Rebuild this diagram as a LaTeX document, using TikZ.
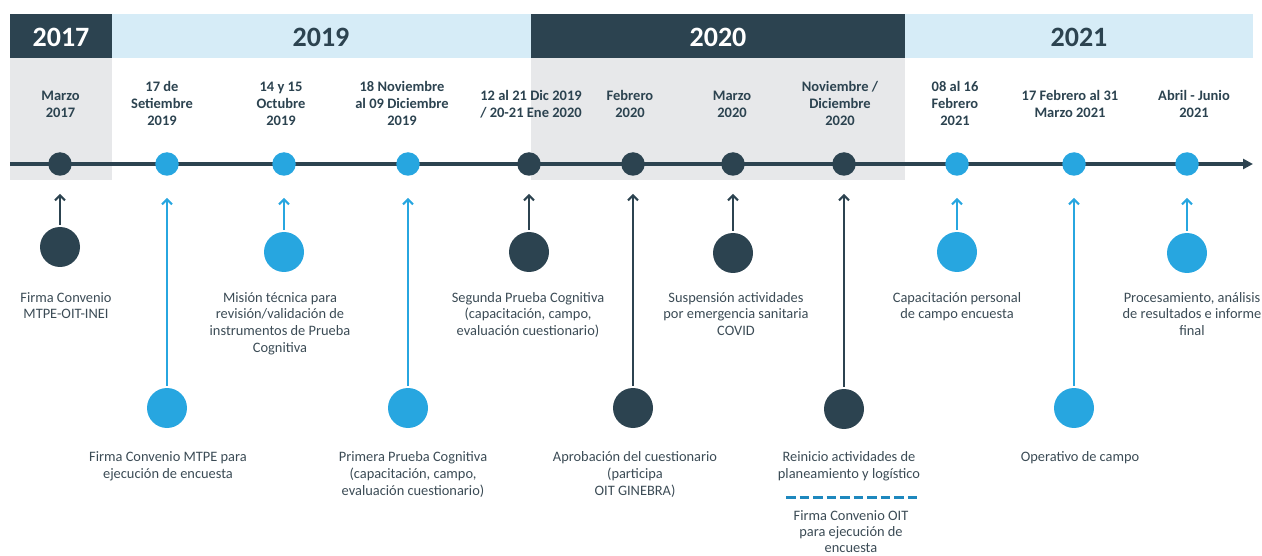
\documentclass[tikz,border=0pt]{standalone}
\usepackage{fontspec}
\setmainfont{Carlito}
\usepackage{xcolor}
\usepackage{tikz}
\usetikzlibrary{arrows.meta}
\definecolor{slate}{HTML}{2C4350}
\definecolor{sky}{HTML}{27A6E0}
\definecolor{paleblue}{HTML}{D6ECF7}
\definecolor{palegrey}{HTML}{E7E8EA}
\definecolor{inkgrey}{HTML}{3B4B55}
\definecolor{dashblue}{HTML}{1E88BE}
\tikzset{
	year label/.style={font=\fontsize{28}{30}\selectfont\bfseries,inner sep=0pt},
	date/.style={align=center,font=\fontsize{14.5}{17}\selectfont\bfseries,text=slate,inner sep=0pt},
	event/.style={align=center,font=\fontsize{14.4}{16.7}\selectfont,text=inkgrey,inner sep=0pt,anchor=north},
	dark dot/.style={circle,fill=slate,minimum size=23.5pt,inner sep=0pt},
	blue dot/.style={circle,fill=sky,minimum size=23.5pt,inner sep=0pt},
	dark ball/.style={circle,fill=slate,minimum size=40pt,inner sep=0pt},
	blue ball/.style={circle,fill=sky,minimum size=40pt,inner sep=0pt},
	dark link/.style={draw=slate,line width=2pt,-{Straight Barb[length=5pt,width=10pt]},shorten >=18pt,shorten <=2pt},
	blue link/.style={draw=sky,line width=2pt,-{Straight Barb[length=5pt,width=10pt]},shorten >=22pt,shorten <=2pt}
}

\begin{document}
\begin{tikzpicture}[x=1pt,y=-1pt]
	    \useasboundingbox (0,0) rectangle (1262,556);

	    \fill[palegrey] (10,58) rectangle (112,180);
	    \fill[palegrey] (531,58) rectangle (905,180);
	    \fill[slate] (10,14) rectangle (112,58);
	    \fill[paleblue] (112,14) rectangle (531,58);
	    \fill[slate] (531,14) rectangle (905,58);
	    \fill[paleblue] (905,14) rectangle (1253,58);

	    \node[year label,text=white] (y17) at (61,37) {2017};
	    \node[year label,text=slate] (y19) at (321,37) {2019};
	    \node[year label,text=white] (y20) at (718,37) {2020};
	    \node[year label,text=slate] (y21) at (1079,37) {2021};

	    \coordinate (start) at (10,164);
	    \coordinate (end) at (1253,164);
	    \draw[slate,line width=4pt,-{Triangle[length=10pt,width=10pt]}] (start) -- (end);

	    \node[dark dot] (d1) at (60,164) {};
	    \node[blue dot] (d2) at (167,164) {};
	    \node[blue dot] (d3) at (284,164) {};
	    \node[blue dot] (d4) at (408,164) {};
	    \node[dark dot] (d5) at (529,164) {};
	    \node[dark dot] (d6) at (633,164) {};
	    \node[dark dot] (d7) at (733,164) {};
	    \node[dark dot] (d8) at (844,164) {};
	    \node[blue dot] (d9) at (957,164) {};
	    \node[blue dot] (d10) at (1074,164) {};
	    \node[blue dot] (d11) at (1187,164) {};

	    \node[date] (t1) at (60.5,104) {Marzo\\2017};
	    \node[date] (t2) at (162,103.5) {17 de\\Setiembre\\2019};
	    \node[date] (t3) at (281,103.5) {14 y 15\\Octubre\\2019};
	    \node[date] (t4) at (402,103.5) {18 Noviembre\\al 09 Diciembre\\2019};
	    \node[date] (t5) at (531,104) {12 al 21 Dic 2019\\/ 20-21 Ene 2020};
	    \node[date] (t6) at (630,103.5) {Febrero\\2020};
	    \node[date] (t7) at (732,104) {Marzo\\2020};
	    \node[date] (t8) at (840,103.5) {Noviembre /\\Diciembre\\2020};
	    \node[date] (t9) at (955,103.5) {08 al 16\\Febrero\\2021};
	    \node[date] (t10) at (1070,104) {17 Febrero al 31\\Marzo 2021};
	    \node[date] (t11) at (1194,104) {Abril - Junio\\2021};

	    \node[dark ball] (c1) at (60,247) {};
	    \node[blue ball] (c2) at (167,408) {};
	    \node[blue ball] (c3) at (284,252) {};
	    \node[blue ball] (c4) at (408,408) {};
	    \node[dark ball] (c5) at (529,252) {};
	    \node[dark ball] (c6) at (633,408) {};
	    \node[dark ball] (c7) at (733,253) {};
	    \node[dark ball] (c8) at (844,409) {};
	    \node[blue ball] (c9) at (957,252) {};
	    \node[blue ball] (c10) at (1074,408) {};
	    \node[blue ball] (c11) at (1187,253) {};

	    \path
	      (c1) edge[dark link] (d1)
	      (c2) edge[blue link] (d2)
	      (c3) edge[blue link] (d3)
	      (c4) edge[blue link] (d4)
	      (c5) edge[dark link] (d5)
	      (c6) edge[dark link] (d6)
	      (c7) edge[dark link] (d7)
	      (c8) edge[dark link] (d8)
	      (c9) edge[blue link] (d9)
	      (c10) edge[blue link] (d10)
	      (c11) edge[blue link] (d11);

	    \node[event] (e1) at (66,292) {Firma Convenio\\MTPE-OIT-INEI};
	    \node[event] (e2) at (168,451.5) {Firma Convenio MTPE para\\ejecución de encuesta};
	    \node[event] (e3) at (280,292) {Misión técnica para\\revisión/validación de\\instrumentos de Prueba\\Cognitiva};
	    \node[event] (e4) at (413,451.5) {Primera Prueba Cognitiva\\(capacitación, campo,\\evaluación cuestionario)};
	    \node[event] (e5) at (528,292) {Segunda Prueba Cognitiva\\(capacitación, campo,\\evaluación cuestionario)};
	    \node[event] (e6) at (635,451.5) {Aprobación del cuestionario\\(participa\\OIT GINEBRA)};
	    \node[event] (e7) at (736,292) {Suspensión actividades\\por emergencia sanitaria\\COVID};
	    \node[event] (e8) at (849,451.5) {Reinicio actividades de\\planeamiento y logístico};
	    \node[event] (e9) at (957,292) {Capacitación personal\\de campo encuesta};
	    \node[event] (e10) at (1080,451.5) {Operativo de campo};
	    \node[event] (e11) at (1192,292) {Procesamiento, análisis\\de resultados e informe\\final};

	    \coordinate (rule left) at (786,497);
	    \coordinate (rule right) at (918,497);
	    \draw[dashblue,line width=3pt,dash pattern=on 9.8pt off 3.7pt] (rule left) -- (rule right);
	    \node[event,font=\fontsize{14.4}{16}\selectfont] (e12) at (851,510) {Firma Convenio OIT\\para ejecución de\\encuesta};
	  \end{tikzpicture}
\end{document}
